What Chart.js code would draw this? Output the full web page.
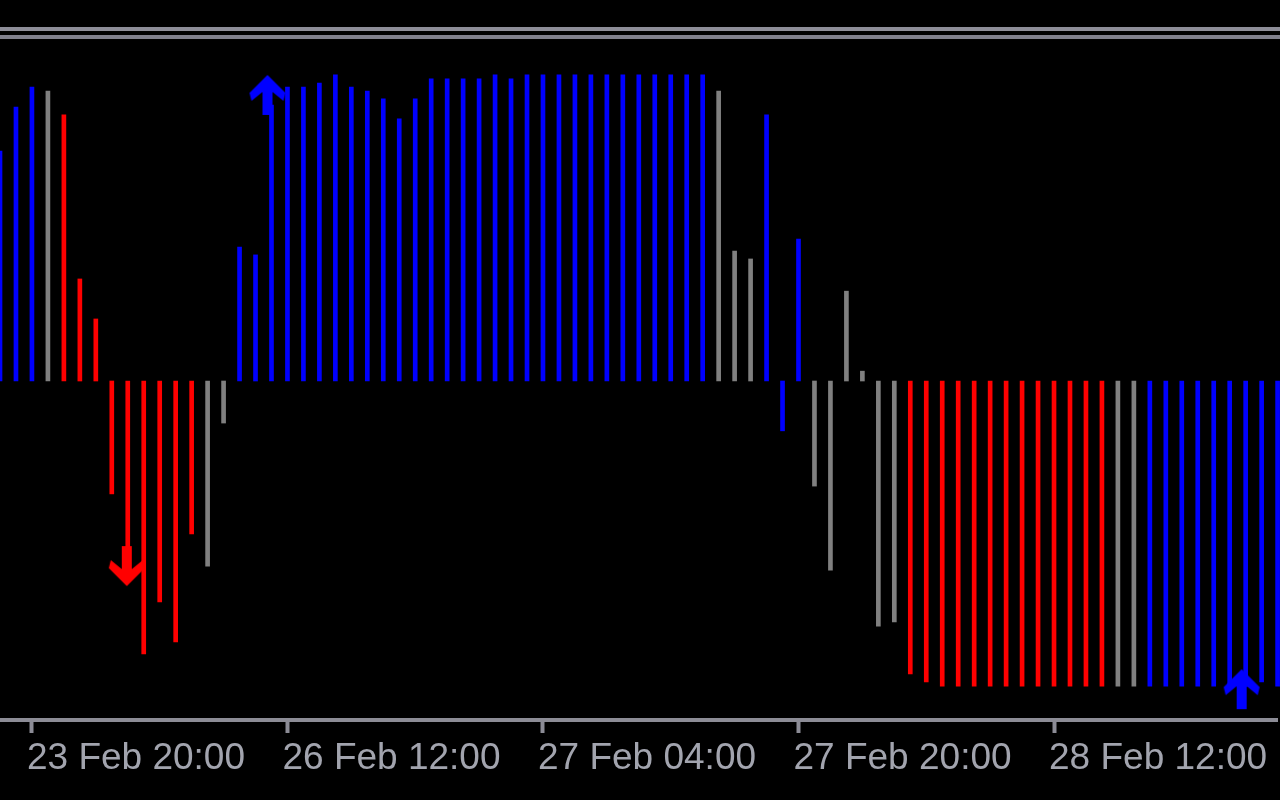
<!DOCTYPE html>
<html lang="en">
<head>
  <meta charset="UTF-8" />
  <title>Histogram</title>
  <script src="https://cdn.jsdelivr.net/npm/chart.js"></script>
  <style>
    html, body { margin: 0; padding: 0; background: #000; }
    #wrap { width: 1280px; height: 800px; }
  </style>
</head>
<body>
  <div id="wrap"><canvas id="histChart" width="1280" height="800"></canvas></div>

  <script>
    // bar values (indicator units, zero line in the middle)
    const values = [
      67.8, 80.8, 86.7, 85.5, 78.5, 30.1, 18.3, -33.3, -52.8, -80.5,
      -65.2, -77.0, -45.1, -54.6, -12.4, 39.5, 37.2, 81.4, 86.7, 86.7,
      87.9, 90.3, 86.7, 85.5, 83.2, 77.3, 83.2, 89.1, 89.1, 89.1,
      89.1, 90.3, 89.1, 90.3, 90.3, 90.3, 90.3, 90.3, 90.3, 90.3,
      90.3, 90.3, 90.3, 90.3, 90.3, 85.5, 38.3, 36.0, 78.5, -14.7,
      41.9, -31.0, -55.8, 26.5, 2.9, -72.3, -71.1, -86.4, -88.8, -90.0,
      -90.0, -90.0, -90.0, -90.0, -90.0, -90.0, -90.0, -90.0, -90.0, -90.0,
      -90.0, -90.0, -90.0, -90.0, -90.0, -90.0, -90.0, -90.0, -90.0, -88.8,
      -90.0
    ];

    // u = up (blue), d = down (red), n = neutral (gray)
    const states = [
      'u','u','u','n','d','d','d','d','d','d',
      'd','d','d','n','n','u','u','u','u','u',
      'u','u','u','u','u','u','u','u','u','u',
      'u','u','u','u','u','u','u','u','u','u',
      'u','u','u','u','u','n','n','n','u','u',
      'u','n','n','n','n','n','n','d','d','d',
      'd','d','d','d','d','d','d','d','d','d',
      'n','n','u','u','u','u','u','u','u','u',
      'u'
    ];

    // signal arrows: bar index, value, direction
    const arrowIndex = [8, 17, 78];
    const arrowValue = [-54.6, 84.4, -90.9];
    const arrowDir   = ['down', 'up', 'up'];

    const tickIndex = [2, 18, 34, 50, 66];
    const tickText  = ['23 Feb 20:00', '26 Feb 12:00', '27 Feb 04:00', '27 Feb 20:00', '28 Feb 12:00'];

    const categories = values.map((v, i) => i);
    const arrowData = values.map(() => null);
    arrowIndex.forEach((idx, k) => { arrowData[idx] = arrowValue[k]; });
    const arrowDirAt = {};
    arrowIndex.forEach((idx, k) => { arrowDirAt[idx] = arrowDir[k]; });

    const colorOf = { u: '#0000ff', d: '#ff0000', n: '#808080' };
    const axisColor = '#8c8c96';

    function makeArrow(color, up, shiftX) {
      const c = document.createElement('canvas');
      c.width = 48; c.height = 44;
      const g = c.getContext('2d');
      g.translate(24 + shiftX, 22);
      if (!up) g.scale(1, -1);
      g.beginPath();
      g.moveTo(0, -20);
      g.lineTo(18, -2);
      g.lineTo(16, 6);
      g.lineTo(5, -3);
      g.lineTo(5, 20);
      g.lineTo(-5, 20);
      g.lineTo(-5, -3);
      g.lineTo(-16, 6);
      g.lineTo(-18, -2);
      g.closePath();
      g.fillStyle = color;
      g.fill();
      return c;
    }
    const upArrow = makeArrow('#0000ff', true, -4);
    const downArrow = makeArrow('#ff0000', false, -1);

    const frame = {
      id: 'frame',
      beforeDraw(chart) {
        const g = chart.ctx;
        g.save();
        g.fillStyle = '#000';
        g.fillRect(0, 0, chart.width, chart.height);
        g.fillStyle = '#8e8e98';
        g.fillRect(0, 27, chart.width, 4);
        g.fillStyle = '#80808c';
        g.fillRect(0, 35, chart.width, 4);
        g.restore();
      }
    };

    const ctx = document.getElementById('histChart').getContext('2d');
    new Chart(ctx, {
      type: 'bar',
      data: {
        labels: categories,
        datasets: [
          {
            type: 'line',
            data: arrowData,
            showLine: false,
            order: 0,
            clip: false,
            pointStyle: c => arrowDirAt[c.dataIndex] === 'down' ? downArrow : upArrow,
            pointRadius: 10,
            pointBorderWidth: 0
          },
          {
            data: values,
            order: 1,
            clip: false,
            barThickness: 4,
            borderWidth: 0,
            backgroundColor: states.map(s => colorOf[s])
          }
        ]
      },
      options: {
        responsive: false,
        animation: false,
        layout: { autoPadding: false, padding: { top: 42, right: 2.4, left: 0, bottom: 0 } },
        plugins: { legend: { display: false }, tooltip: { enabled: false } },
        scales: {
          x: {
            offset: false,
            afterFit: scale => {
              scale.height = 80;
              scale.paddingLeft = 0;
              scale.paddingRight = 0;
            },
            border: { display: true, color: axisColor, width: 4 },
            grid: {
              offset: false,
              drawOnChartArea: false,
              drawTicks: true,
              tickLength: 13,
              tickWidth: 4,
              tickColor: c => tickIndex.includes(c.index) ? axisColor : 'rgba(0,0,0,0)'
            },
            ticks: {
              autoSkip: false,
              maxRotation: 0,
              minRotation: 0,
              align: 'start',
              labelOffset: -5,
              padding: 4,
              color: '#a2a4ae',
              font: { family: 'Liberation Sans, Arial, sans-serif', size: 37 },
              callback: (v, i) => {
                const k = tickIndex.indexOf(i);
                return k >= 0 ? tickText[k] : '';
              }
            }
          },
          y: {
            display: false,
            min: -100,
            max: 100
          }
        }
      },
      plugins: [frame]
    });
  </script>
</body>
</html>
